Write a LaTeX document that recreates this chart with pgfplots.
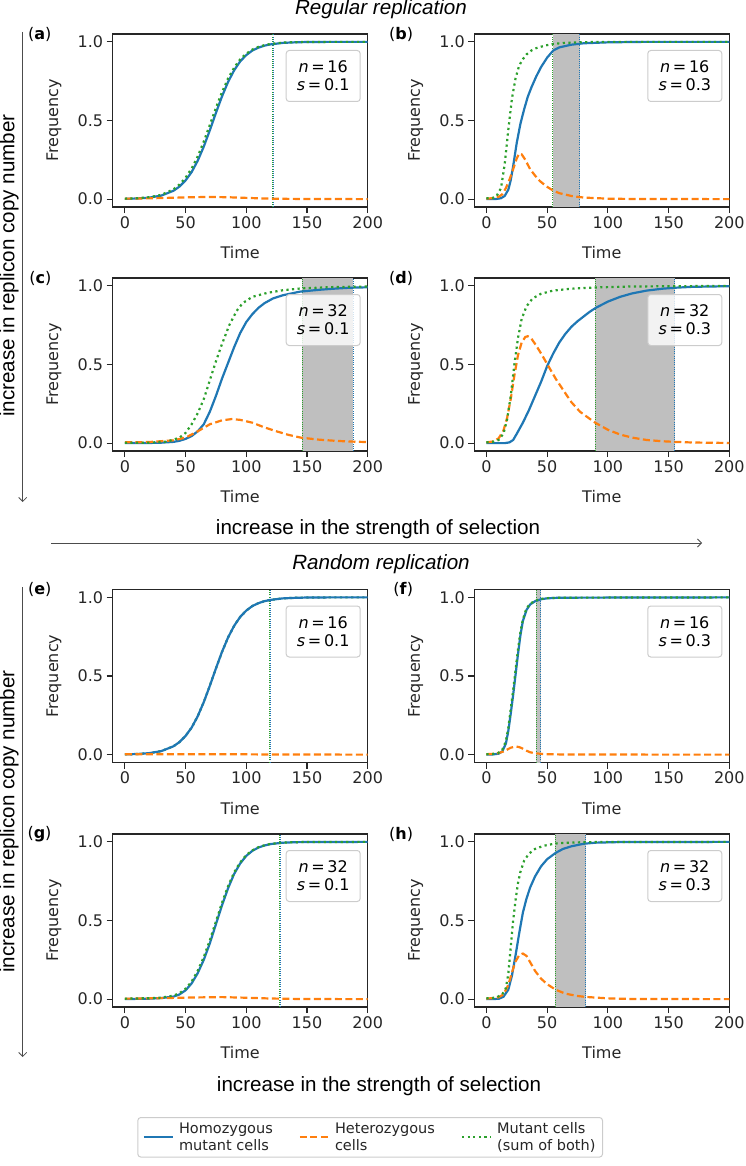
\documentclass[border=0pt]{standalone}
\usepackage{fontspec}
\setmainfont{DejaVu Sans}
\newfontfamily\arialf{Liberation Sans}
\usepackage{pgfplots}
\pgfplotsset{compat=1.18}
\usetikzlibrary{arrows.meta}
\definecolor{tabblue}{HTML}{1F77B4}
\definecolor{taborange}{HTML}{FF7F0E}
\definecolor{tabgreen}{HTML}{2CA02C}
\definecolor{shadecol}{HTML}{BFBFBF}
\definecolor{spine}{HTML}{262626}
\newcommand{\fs}{\fontsize{16}{18.3}\selectfont}
\newcommand{\lfs}{\fontsize{14.5}{17}\selectfont}
\newcommand{\bigf}{\arialf\fontsize{20.6}{24}\selectfont}
\pgfplotsset{
  panel/.style={
    width=255pt, height=173pt, scale only axis,
    xmin=-10, xmax=200, ymin=-0.05, ymax=1.05,
    xtick={0,50,100,150,200}, xticklabels={0,50,100,150,200},
    ytick={0,0.5,1}, yticklabels={0.0,0.5,1.0},
    tick align=outside, xtick pos=bottom, ytick pos=left,
    major tick length=6pt,
    every tick/.style={spine, line width=1.2pt},
    axis line style={spine, line width=1.2pt},
    tick label style={font=\fs, text=spine},
    xlabel=Time, ylabel=Frequency,
    label style={font=\fs, text=spine},
    xlabel style={at={(axis description cs:0.5,-0.266)}, anchor=center},
    ylabel style={at={(axis description cs:-0.23,0.5)}, anchor=center},
    clip mode=individual,
  },
  blueline/.style={tabblue, line width=2.2pt},
  orangeline/.style={taborange, line width=2.2pt, dash pattern=on 7pt off 3.5pt},
  greenline/.style={tabgreen, line width=2.2pt, dash pattern=on 2.2pt off 3.4pt},
  shade/.style={draw=none, fill=shadecol, forget plot},
  vg/.style={tabgreen, line width=0.9pt, dash pattern=on 0.9pt off 1.3pt, forget plot},
  vb/.style={tabblue, line width=0.9pt, dash pattern=on 0.9pt off 1.3pt, forget plot},
}
\tikzset{
  infobox/.style={anchor=north east, xshift=-7pt, yshift=-16pt, minimum width=74pt,
    minimum height=51pt, draw=black!20, line width=1pt, fill=white, fill opacity=0.8,
    text opacity=1, rounded corners=3pt, align=center, font=\fs, inner sep=0pt},
  plab/.style={anchor=east, xshift=-57.7pt, font=\fs, text=black},
  arr/.style={black!70, line width=0.8pt, -{Straight Barb[length=4pt,width=8pt]}},
}
\begin{document}
\begin{tikzpicture}
\useasboundingbox (0pt,0pt) rectangle (745pt,-1166pt);

% ---------- texts and arrows ----------
\node[font=\bigf\itshape] at (381pt,-9pt) {Regular replication};
\node[font=\bigf] at (378pt,-529pt) {increase in the strength of selection};
\draw[arr] (51pt,-543pt) -- (702pt,-543pt);
\node[font=\bigf\itshape] at (381pt,-564pt) {Random replication};
\node[font=\bigf] at (379pt,-1086pt) {increase in the strength of selection};
\draw[arr] (22.7pt,-32pt) -- (22.7pt,-502pt);
\draw[arr] (22.7pt,-587pt) -- (22.7pt,-1057pt);
\node[font=\bigf, rotate=90] at (9pt,-265.5pt) {increase in replicon copy number};
\node[font=\bigf, rotate=90] at (9pt,-821.5pt) {increase in replicon copy number};

% ---------- (a) ----------
\begin{axis}[panel, at={(112.7pt,-207pt)}, anchor=south west]
\addplot[vg] coordinates {(121.2,-0.05) (121.2,1.05)};
\addplot[vb] coordinates {(122.0,-0.05) (122.0,1.05)};
\addplot[blueline] coordinates {(0,0.0017) (10,0.004) (20,0.0095) (30,0.0225) (40,0.053) (45,0.080) (50,0.119) (55,0.172) (60,0.244) (65,0.334) (70,0.438) (75,0.548) (80,0.653) (85,0.745) (90,0.819) (95,0.876) (100,0.916) (105,0.945) (110,0.963) (115,0.976) (120,0.984) (130,0.9935) (140,0.997) (150,0.999) (170,1.0) (200,1.0)};
\addplot[orangeline] coordinates {(0,0.003) (20,0.005) (40,0.009) (55,0.012) (70,0.014) (85,0.012) (100,0.008) (115,0.004) (130,0.002) (150,0.001) (200,0.0)};
\addplot[greenline] coordinates {(0,0.003) (10,0.006) (20,0.012) (30,0.027) (40,0.062) (45,0.093) (50,0.136) (55,0.195) (60,0.272) (65,0.366) (70,0.472) (75,0.58) (80,0.68) (85,0.767) (90,0.836) (95,0.889) (100,0.925) (105,0.951) (110,0.968) (115,0.979) (120,0.987) (130,0.995) (140,0.998) (150,0.999) (170,1.0) (200,1.0)};
\node[infobox] at (rel axis cs:1,1) {\textit{n}\,=\,16\\\textit{s}\,=\,0.1};
\node[plab] at (rel axis cs:0,1) {(\textbf{a})};
\end{axis}

% ---------- (b) ----------
\begin{axis}[panel, at={(474.3pt,-207pt)}, anchor=south west]
\addplot[shade] coordinates {(54.4,-0.05) (54.4,1.05) (76.9,1.05) (76.9,-0.05)} --cycle;
\addplot[vg] coordinates {(54.4,-0.05) (54.4,1.05)};
\addplot[vb] coordinates {(76.9,-0.05) (76.9,1.05)};
\addplot[blueline] coordinates {(0,0) (8,0.001) (12,0.006) (15,0.02) (18,0.06) (20,0.12) (22,0.21) (25,0.36) (28,0.48) (31,0.57) (34,0.65) (37,0.71) (41,0.78) (45,0.84) (50,0.90) (55,0.945) (60,0.965) (70,0.982) (80,0.991) (100,0.997) (130,1.0) (200,1.0)};
\addplot[orangeline] coordinates {(0,0.003) (5,0.006) (10,0.015) (13,0.03) (16,0.07) (19,0.125) (22,0.19) (25,0.26) (27,0.29) (29,0.285) (32,0.25) (36,0.19) (40,0.15) (44,0.115) (50,0.078) (55,0.054) (60,0.038) (70,0.02) (80,0.01) (100,0.003) (120,0.001) (200,0.0)};
\addplot[greenline] coordinates {(0,0.005) (5,0.008) (8,0.015) (12,0.07) (15,0.22) (18,0.44) (21,0.64) (24,0.77) (27,0.85) (30,0.89) (33,0.92) (37,0.945) (41,0.96) (48,0.976) (55,0.987) (65,0.994) (80,0.998) (100,1.0) (200,1.0)};
\node[infobox] at (rel axis cs:1,1) {\textit{n}\,=\,16\\\textit{s}\,=\,0.3};
\node[plab] at (rel axis cs:0,1) {(\textbf{b})};
\end{axis}

% ---------- (c) ----------
\begin{axis}[panel, at={(112.7pt,-451pt)}, anchor=south west]
\addplot[shade] coordinates {(146.1,-0.05) (146.1,1.05) (188.1,1.05) (188.1,-0.05)} --cycle;
\addplot[vg] coordinates {(146.1,-0.05) (146.1,1.05)};
\addplot[vb] coordinates {(188.1,-0.05) (188.1,1.05)};
\addplot[blueline] coordinates {(0,0) (20,0.001) (30,0.003) (40,0.008) (45,0.015) (50,0.027) (55,0.045) (60,0.075) (65,0.12) (70,0.2) (75,0.3) (80,0.41) (85,0.51) (90,0.61) (95,0.70) (100,0.77) (105,0.82) (110,0.86) (115,0.89) (122,0.92) (130,0.94) (144,0.963) (160,0.975) (172,0.982) (185,0.988) (200,0.991)};
\addplot[orangeline] coordinates {(0,0.005) (20,0.007) (40,0.018) (50,0.035) (60,0.075) (70,0.12) (80,0.145) (88,0.153) (95,0.148) (105,0.13) (115,0.10) (125,0.075) (135,0.052) (145,0.035) (160,0.022) (175,0.014) (190,0.009) (200,0.007)};
\addplot[greenline] coordinates {(0,0.002) (20,0.003) (35,0.01) (45,0.035) (50,0.065) (55,0.12) (60,0.19) (65,0.28) (70,0.40) (75,0.52) (80,0.63) (86,0.75) (92,0.84) (97,0.89) (105,0.93) (117,0.955) (130,0.972) (144,0.983) (170,0.992) (200,0.996)};
\node[infobox] at (rel axis cs:1,1) {\textit{n}\,=\,32\\\textit{s}\,=\,0.1};
\node[plab] at (rel axis cs:0,1) {(\textbf{c})};
\end{axis}

% ---------- (d) ----------
\begin{axis}[panel, at={(474.3pt,-451pt)}, anchor=south west]
\addplot[shade] coordinates {(89.8,-0.05) (89.8,1.05) (155.2,1.05) (155.2,-0.05)} --cycle;
\addplot[vg] coordinates {(89.8,-0.05) (89.8,1.05)};
\addplot[vb] coordinates {(155.2,-0.05) (155.2,1.05)};
\addplot[blueline] coordinates {(0,0) (15,0) (19,0.005) (22,0.02) (25,0.06) (30,0.13) (35,0.21) (40,0.30) (45,0.39) (50,0.49) (55,0.57) (60,0.64) (65,0.695) (70,0.74) (75,0.775) (80,0.805) (85,0.835) (90,0.86) (100,0.9) (110,0.93) (120,0.952) (132,0.97) (145,0.982) (155,0.988) (170,0.994) (200,0.998)};
\addplot[orangeline] coordinates {(0,0.005) (5,0.01) (10,0.03) (14,0.08) (17,0.16) (20,0.28) (23,0.43) (26,0.56) (29,0.64) (32,0.675) (34,0.68) (37,0.665) (41,0.62) (45,0.57) (51,0.49) (57,0.41) (63,0.34) (70,0.26) (77,0.2) (85,0.155) (90,0.128) (100,0.085) (110,0.055) (120,0.035) (132,0.02) (145,0.012) (155,0.008) (170,0.004) (200,0.001)};
\addplot[greenline] coordinates {(0,0.005) (5,0.008) (10,0.02) (14,0.06) (17,0.15) (20,0.30) (23,0.50) (26,0.67) (29,0.79) (33,0.87) (38,0.92) (45,0.95) (55,0.97) (70,0.982) (90,0.99) (120,0.996) (200,1.0)};
\node[infobox] at (rel axis cs:1,1) {\textit{n}\,=\,32\\\textit{s}\,=\,0.3};
\node[plab] at (rel axis cs:0,1) {(\textbf{d})};
\end{axis}

% ---------- (e) ----------
\begin{axis}[panel, at={(112.7pt,-762.5pt)}, anchor=south west]
\addplot[vg] coordinates {(119.3,-0.05) (119.3,1.05)};
\addplot[vb] coordinates {(119.8,-0.05) (119.8,1.05)};
\addplot[greenline] coordinates {(0,0.002) (10,0.004) (20,0.0095) (30,0.0225) (40,0.053) (45,0.080) (50,0.119) (55,0.172) (60,0.244) (65,0.334) (70,0.438) (75,0.548) (80,0.653) (85,0.745) (90,0.819) (95,0.876) (100,0.916) (105,0.945) (110,0.963) (115,0.976) (120,0.984) (130,0.9935) (140,0.997) (150,0.999) (170,1.0) (200,1.0)};
\addplot[blueline] coordinates {(0,0.0017) (10,0.004) (20,0.0095) (30,0.0225) (40,0.053) (45,0.080) (50,0.119) (55,0.172) (60,0.244) (65,0.334) (70,0.438) (75,0.548) (80,0.653) (85,0.745) (90,0.819) (95,0.876) (100,0.916) (105,0.945) (110,0.963) (115,0.976) (120,0.984) (130,0.9935) (140,0.997) (150,0.999) (170,1.0) (200,1.0)};
\addplot[orangeline] coordinates {(0,0.002) (50,0.003) (80,0.003) (120,0.001) (200,0.0)};
\node[infobox] at (rel axis cs:1,1) {\textit{n}\,=\,16\\\textit{s}\,=\,0.1};
\node[plab] at (rel axis cs:0,1) {(\textbf{e})};
\end{axis}

% ---------- (f) ----------
\begin{axis}[panel, at={(474.3pt,-762.5pt)}, anchor=south west]
\addplot[shade] coordinates {(41.2,-0.05) (41.2,1.05) (44.7,1.05) (44.7,-0.05)} --cycle;
\addplot[vg] coordinates {(41.2,-0.05) (41.2,1.05)};
\addplot[vb] coordinates {(44.7,-0.05) (44.7,1.05)};
\addplot[blueline] coordinates {(0,0) (5,0.001) (10,0.006) (13,0.02) (16,0.07) (18,0.15) (20,0.26) (22,0.38) (24,0.51) (26,0.64) (28,0.76) (30,0.85) (33,0.92) (36,0.955) (40,0.975) (45,0.988) (50,0.994) (60,0.998) (200,1.0)};
\addplot[orangeline] coordinates {(0,0.003) (5,0.005) (10,0.01) (14,0.02) (17,0.032) (20,0.044) (24,0.052) (27,0.048) (30,0.038) (33,0.025) (36,0.015) (40,0.009) (45,0.005) (50,0.003) (60,0.0015) (80,0.0005) (200,0.0)};
\addplot[greenline] coordinates {(0,0.003) (5,0.004) (10,0.012) (13,0.03) (16,0.085) (18,0.17) (20,0.29) (22,0.41) (24,0.54) (26,0.67) (28,0.78) (30,0.86) (33,0.93) (36,0.96) (40,0.978) (45,0.99) (50,0.995) (60,0.998) (200,1.0)};
\node[infobox] at (rel axis cs:1,1) {\textit{n}\,=\,16\\\textit{s}\,=\,0.3};
\node[plab] at (rel axis cs:0,1) {(\textbf{f})};
\end{axis}

% ---------- (g) ----------
\begin{axis}[panel, at={(112.7pt,-1007pt)}, anchor=south west]
\addplot[vg] coordinates {(127.2,-0.05) (127.2,1.05)};
\addplot[vb] coordinates {(128.2,-0.05) (128.2,1.05)};
\addplot[blueline] coordinates {(0,0.0005) (20,0.003) (30,0.007) (40,0.016) (45,0.03) (50,0.056) (55,0.10) (60,0.165) (65,0.25) (70,0.355) (75,0.476) (80,0.596) (85,0.705) (90,0.796) (95,0.863) (100,0.911) (105,0.943) (110,0.964) (115,0.977) (120,0.986) (130,0.9947) (140,0.998) (150,0.999) (200,1.0)};
\addplot[orangeline] coordinates {(0,0.003) (20,0.005) (40,0.008) (60,0.011) (80,0.013) (100,0.009) (120,0.004) (140,0.0015) (160,0.0005) (200,0.0)};
\addplot[greenline] coordinates {(0,0.003) (20,0.006) (30,0.01) (40,0.022) (45,0.038) (50,0.066) (55,0.112) (60,0.18) (65,0.268) (70,0.374) (75,0.494) (80,0.612) (85,0.718) (90,0.806) (95,0.87) (100,0.916) (105,0.946) (110,0.966) (115,0.978) (120,0.987) (130,0.995) (140,0.998) (150,0.999) (200,1.0)};
\node[infobox] at (rel axis cs:1,1) {\textit{n}\,=\,32\\\textit{s}\,=\,0.1};
\node[plab] at (rel axis cs:0,1) {(\textbf{g})};
\end{axis}

% ---------- (h) ----------
\begin{axis}[panel, at={(474.3pt,-1007pt)}, anchor=south west,
  legend columns=3,
  legend cell align=left,
  legend image code/.code={\draw[#1] (0pt,0pt) -- (29pt,0pt);},
  legend style={at={(rel axis cs:0.5047,-0.636)}, anchor=north east,
    draw=black!20, line width=1pt, rounded corners=3pt, fill=white,
    inner xsep=5pt, inner ysep=3pt,
    font=\lfs, text=spine,
    cells={align=left},
    /tikz/every odd column/.append style={column sep=3pt},
    /tikz/every even column/.append style={column sep=24pt}},
]
\addplot[shade] coordinates {(56.8,-0.05) (56.8,1.05) (81.6,1.05) (81.6,-0.05)} --cycle;
\addplot[vg] coordinates {(56.8,-0.05) (56.8,1.05)};
\addplot[vb] coordinates {(81.6,-0.05) (81.6,1.05)};
\addplot[blueline] coordinates {(0,0) (10,0.002) (14,0.015) (18,0.06) (21,0.15) (24,0.28) (27,0.42) (30,0.55) (33,0.64) (36,0.71) (40,0.78) (45,0.845) (50,0.89) (57,0.93) (63,0.955) (70,0.972) (80,0.988) (90,0.995) (110,0.999) (200,1.0)};
\addlegendentry{Homozygous\\mutant cells}
\addplot[orangeline] coordinates {(0,0.004) (5,0.006) (10,0.012) (14,0.03) (18,0.09) (21,0.17) (24,0.24) (27,0.28) (30,0.29) (33,0.275) (36,0.235) (40,0.18) (45,0.13) (50,0.095) (57,0.06) (65,0.035) (75,0.02) (82,0.014) (100,0.005) (120,0.001) (200,0.0)};
\addlegendentry{Heterozygous\\cells}
\addplot[greenline] coordinates {(0,0.005) (8,0.01) (13,0.03) (16,0.07) (18,0.16) (20,0.33) (22,0.50) (24,0.63) (26,0.74) (28,0.81) (31,0.88) (35,0.925) (40,0.955) (47,0.975) (57,0.99) (70,0.996) (90,0.999) (200,1.0)};
\addlegendentry{Mutant cells\\(sum of both)}
\node[infobox] at (rel axis cs:1,1) {\textit{n}\,=\,32\\\textit{s}\,=\,0.3};
\node[plab] at (rel axis cs:0,1) {(\textbf{h})};
\end{axis}
\end{tikzpicture}
\end{document}
